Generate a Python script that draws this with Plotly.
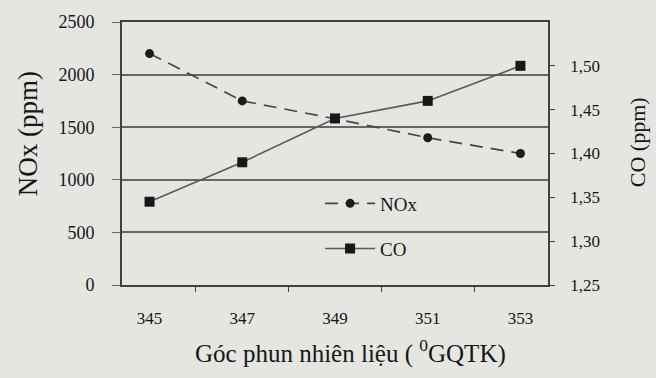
import plotly.graph_objects as go

# Injection timing (degrees before TDC) and measured emissions
angles = ["345", "347", "349", "351", "353"]
nox_ppm = [2200, 1750, 1580, 1400, 1250]
co_ppm = [1.345, 1.39, 1.44, 1.46, 1.50]

left_ticks = [0, 500, 1000, 1500, 2000, 2500]
right_ticks = [1.25, 1.30, 1.35, 1.40, 1.45, 1.50]

SERIF = "Liberation Serif, Times New Roman, serif"
INK = "#161616"
GRID = "#666666"
PAPER = "#e5e5e1"

fig = go.Figure()

fig.add_trace(go.Scatter(
    x=angles, y=nox_ppm, name="NOx", yaxis="y", legend="legend",
    mode="lines+markers", showlegend=True,
    line=dict(color="#474747", width=1.7, dash="13px,8px"),
    marker=dict(symbol="circle", size=9, color="#1c1c1c"),
))
fig.add_trace(go.Scatter(
    x=angles, y=co_ppm, name="CO", yaxis="y2", legend="legend2",
    mode="lines+markers", showlegend=True,
    line=dict(color="#5a5a5a", width=1.6),
    marker=dict(symbol="square", size=10, color="#181818"),
))

legend_style = dict(
    xanchor="left", yanchor="middle",
    bgcolor="rgba(0,0,0,0)", font=dict(family=SERIF, size=19, color=INK),
    itemwidth=50,
)

fig.update_layout(
    width=656, height=378,
    margin=dict(l=122, r=108, t=18, b=93),
    paper_bgcolor=PAPER, plot_bgcolor=PAPER,
    separators=",.",
    showlegend=True,
    font=dict(family=SERIF, color=INK, size=17),
    xaxis=dict(
        type="category", categoryorder="array", categoryarray=angles,
        showline=True, linecolor="#404040", linewidth=1.6,
        mirror=True,
        ticks="outside", tickson="boundaries", ticklen=5, tickcolor="#404040",
        showgrid=False, ticklabelstandoff=17,
        tickfont=dict(family=SERIF, size=17, color=INK),
    ),
    yaxis=dict(
        range=[0, 2500], tickvals=left_ticks,
        showline=True, linecolor="#404040", linewidth=1.6,
        ticks="outside", ticklen=8, tickcolor=GRID,
        showgrid=True, gridcolor=GRID, gridwidth=1.5,
        zeroline=False, ticklabelstandoff=14,
        tickfont=dict(family=SERIF, size=18, color=INK),
    ),
    yaxis2=dict(
        overlaying="y", side="right",
        range=[1.25, 1.55], tickvals=right_ticks, tickformat=".2f",
        showline=True, linecolor="#404040", linewidth=1.6,
        ticks="outside", ticklen=5, tickcolor="#404040",
        showgrid=False, zeroline=False, ticklabelstandoff=12,
        tickfont=dict(family=SERIF, size=17, color=INK),
    ),
    legend=dict(x=0.465, y=0.31, **legend_style),
    legend2=dict(x=0.465, y=0.138, **legend_style),
    annotations=[
        dict(text="NOx (ppm)", xref="paper", yref="paper",
             x=-0.222, y=0.575, textangle=-90, showarrow=False,
             xanchor="center", yanchor="middle",
             font=dict(family=SERIF, size=27, color=INK)),
        dict(text="CO (ppm)", xref="paper", yref="paper",
             x=1.209, y=0.543, textangle=-90, showarrow=False,
             xanchor="center", yanchor="middle",
             font=dict(family=SERIF, size=22, color=INK)),
        dict(text="Góc phun nhiên liệu ( <sup>0</sup>GQTK)", xref="paper", yref="paper",
             x=0.5375, y=-0.251, showarrow=False,
             xanchor="center", yanchor="middle",
             font=dict(family=SERIF, size=25, color=INK)),
    ],
)

fig.write_html("out.html")
